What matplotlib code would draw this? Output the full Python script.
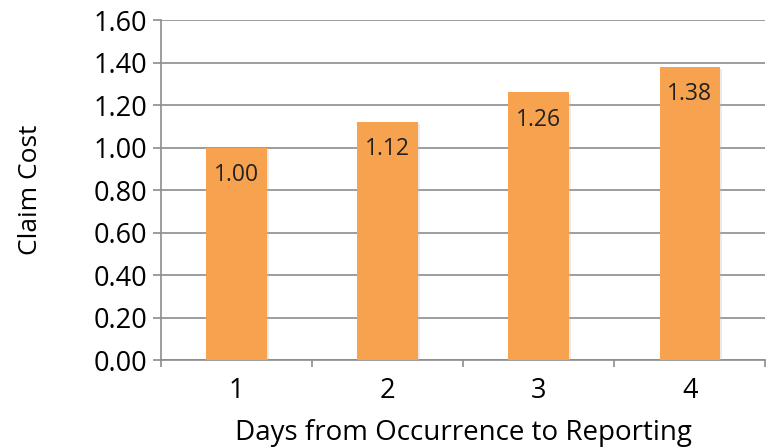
import matplotlib.pyplot as plt
import matplotlib.patheffects as pe
import numpy as np

# claim cost by reporting lag
days = ['1', '2', '3', '4']
claim_cost = [1.00, 1.12, 1.26, 1.38]
y_ticks = [0.0, 0.2, 0.4, 0.6, 0.8, 1.0, 1.2, 1.4, 1.6]

plt.rcParams['font.family'] = ['Open Sans', 'DejaVu Sans']

fig = plt.figure(figsize=(7.7, 4.48), dpi=100)
ax = fig.add_axes([0.209, 0.196, 0.785, 0.759])

x = np.arange(1, len(days) + 1)
bars = ax.bar(x, claim_cost, width=0.40, color='#F7A24E', zorder=3)
for b in bars:
    b.set_path_effects([pe.SimplePatchShadow(offset=(1.5, -1.5), shadow_rgbFace='#bbbbbb', alpha=0.3),
                        pe.Normal()])

for xi, v in zip(x, claim_cost):
    ax.annotate(f'{v:.2f}', xy=(xi, v), xytext=(0, -11), textcoords='offset points',
                ha='center', va='top', fontsize=16.5, color='#222222', zorder=4)

ax.set_xlim(0.5, len(days) + 0.5)
ax.set_ylim(0, 1.6)
ax.set_yticks(y_ticks)
ax.set_yticklabels([f'{t:.2f}' for t in y_ticks])
ax.set_xticks(x)
ax.set_xticklabels(days)
ax.set_xticks(np.arange(0.5, len(days) + 1, 1.0), minor=True)

ax.yaxis.grid(True, color='#8C8C8C', linewidth=1.2, zorder=0)
ax.set_axisbelow(True)
for s in ['top', 'right']:
    ax.spines[s].set_visible(False)
for s in ['left', 'bottom']:
    ax.spines[s].set_color('#8C8C8C')
    ax.spines[s].set_linewidth(1.2)

ax.tick_params(axis='y', length=6, width=1.2, color='#8C8C8C', labelsize=19.5, pad=4)
ax.tick_params(axis='x', which='major', length=0, labelsize=19.5, pad=12)
ax.tick_params(axis='x', which='minor', length=5, width=1.2, color='#8C8C8C')

ax.set_ylabel('Claim Cost', fontsize=19, labelpad=36)
ax.set_xlabel('Days from Occurrence to Reporting', fontsize=20, labelpad=10)

fig.savefig('out.png', dpi=100, facecolor='white')
